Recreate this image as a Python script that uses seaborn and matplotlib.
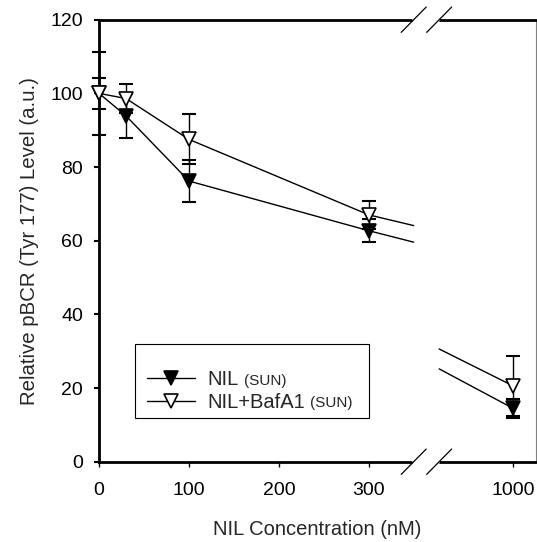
import pandas as pd
import seaborn as sns
import matplotlib.pyplot as plt
from matplotlib.patches import Rectangle

# Data
conc = [0, 30, 100, 300, 1000]
tick_labels = ['0', '100', '200', '300', '1000']
nil_vals = [100, 93.9, 76.2, 62.7, 14.5]
nil_err = [11.3, 5.9, 5.6, 3.1, 2.5]
baf_vals = [100, 98.6, 87.5, 67.0, 20.6]
baf_err = [4.3, 3.9, 6.8, 3.9, 8.2]

# dangling segments around the axis break (values where the stubs end / start)
nil_stub = [59.6, 25.2]
baf_stub = [64.1, 30.6]

# axis break layout (x positions in plot units, 0-300 linear, 1000 placed after break)
POS_1000 = 460
BREAK_L, BREAK_R = 349.7, 378.0
GAP_L, GAP_R = 351, 376
XMAX = 485.6


def to_pos(c):
    return c if c <= 300 else POS_1000


df = pd.DataFrame({
    'conc': conc * 2,
    'pos': [to_pos(c) for c in conc] * 2,
    'value': nil_vals + baf_vals,
    'err': nil_err + baf_err,
    'series': ['NIL'] * len(conc) + ['NIL+BafA1'] * len(conc),
})

sns.set_style('ticks')
plt.rcParams['font.family'] = ['Liberation Sans', 'DejaVu Sans']

W, H = 537, 542
fig = plt.figure(figsize=(W / 100, H / 100), dpi=100)
ax = fig.add_axes([99 / W, (H - 461.7) / H, (536 - 99) / W, (461.7 - 19.7) / H])

styles = {
    'NIL': dict(mfc='black', z=4),
    'NIL+BafA1': dict(mfc='white', z=5),
}
handles = []
for name, st in styles.items():
    d = df[df['series'] == name]
    main = d[d['conc'] <= 300]
    last = d[d['conc'] > 300]
    stub = nil_stub if name == 'NIL' else baf_stub

    ax.errorbar(d['pos'], d['value'], yerr=d['err'], fmt='none', ecolor='black',
                elinewidth=1.0, capsize=4.8, capthick=1.5, zorder=3, clip_on=False)

    sns.lineplot(data=main, x='pos', y='value', ax=ax, color='black', lw=1.0,
                 marker='v', markersize=10, markerfacecolor=st['mfc'],
                 markeredgecolor='black', markeredgewidth=1.2, errorbar=None,
                 zorder=st['z'], clip_on=False, label=name, legend=False)
    handles.append(ax.lines[-1])

    # stubs either side of the break
    p300 = main[main['conc'] == 300]['value'].iloc[0]
    ax.plot([300, BREAK_L], [p300, stub[0]], color='black', lw=1.0, zorder=st['z'] - 0.5)
    ax.plot([BREAK_R, POS_1000], [stub[1], last['value'].iloc[0]], color='black',
            lw=1.0, zorder=st['z'] - 0.5)
    ax.plot(last['pos'], last['value'], ls='none', marker='v', markersize=10,
            markerfacecolor=st['mfc'], markeredgecolor='black', markeredgewidth=1.2,
            zorder=st['z'], clip_on=False)

for c in ax.collections:
    c.set_clip_on(False)
for ln in ax.lines:
    ln.set_clip_on(False)

ax.set_xlim(0, XMAX)
ax.set_ylim(0, 120)
ax.set_xticks([to_pos(c) for c in [0, 100, 200, 300, 1000]])
ax.set_xticklabels(tick_labels)
ax.set_yticks(range(0, 121, 20))

for side in ['left', 'bottom', 'top']:
    ax.spines[side].set_visible(True)
    ax.spines[side].set_linewidth(2.0)
    ax.spines[side].set_color('black')
ax.spines['right'].set_visible(True)
ax.spines['right'].set_linewidth(0.8)
ax.spines['right'].set_color('#808080')

ax.tick_params(axis='x', direction='out', length=3.6, width=1.0, pad=11,
               labelsize=14, colors='black', top=False)
ax.tick_params(axis='y', direction='out', length=3.6, width=1.5, pad=8,
               labelsize=14, colors='black', right=False)

ax.set_xlabel('NIL Concentration (nM)', fontsize=14.5, labelpad=15)
ax.set_ylabel('Relative pBCR (Tyr 177) Level (a.u.)', fontsize=14.7, labelpad=8)

# axis break: white gap in top/bottom spines plus double slashes
xt = ax.get_xaxis_transform()
for yy in [0, 1]:
    ax.plot([GAP_L, GAP_R], [yy, yy], color='white', lw=4, transform=xt,
            clip_on=False, zorder=6)
    for bx in [BREAK_L, BREAK_R]:
        ax.plot([bx - 13.9, bx + 13.9], [yy - 0.0287, yy + 0.0287], color='black',
                lw=0.9, transform=xt, clip_on=False, zorder=7)

# legend box
ax.add_patch(Rectangle((0.0824, 0.0989), 0.5354, 0.1674, transform=ax.transAxes,
                       facecolor='white', edgecolor='black', lw=0.8, zorder=4.5))
leg = ax.legend(handles, ['NIL', 'NIL+BafA1'], loc='upper left',
                bbox_to_anchor=(0.1098, 0.2066), frameon=False, fontsize=14.5,
                handlelength=2.4, handletextpad=0.6, labelspacing=0.16,
                borderpad=0, borderaxespad=0)
leg.set_zorder(6)

fig.canvas.draw()
for t in leg.get_texts():
    ax.annotate('(SUN)', xy=(1, 0.22), xycoords=t, xytext=(3.5, 0),
                textcoords='offset points', fontsize=11, va='baseline', ha='left',
                zorder=7, annotation_clip=False)

plt.savefig('out.png', dpi=100)
